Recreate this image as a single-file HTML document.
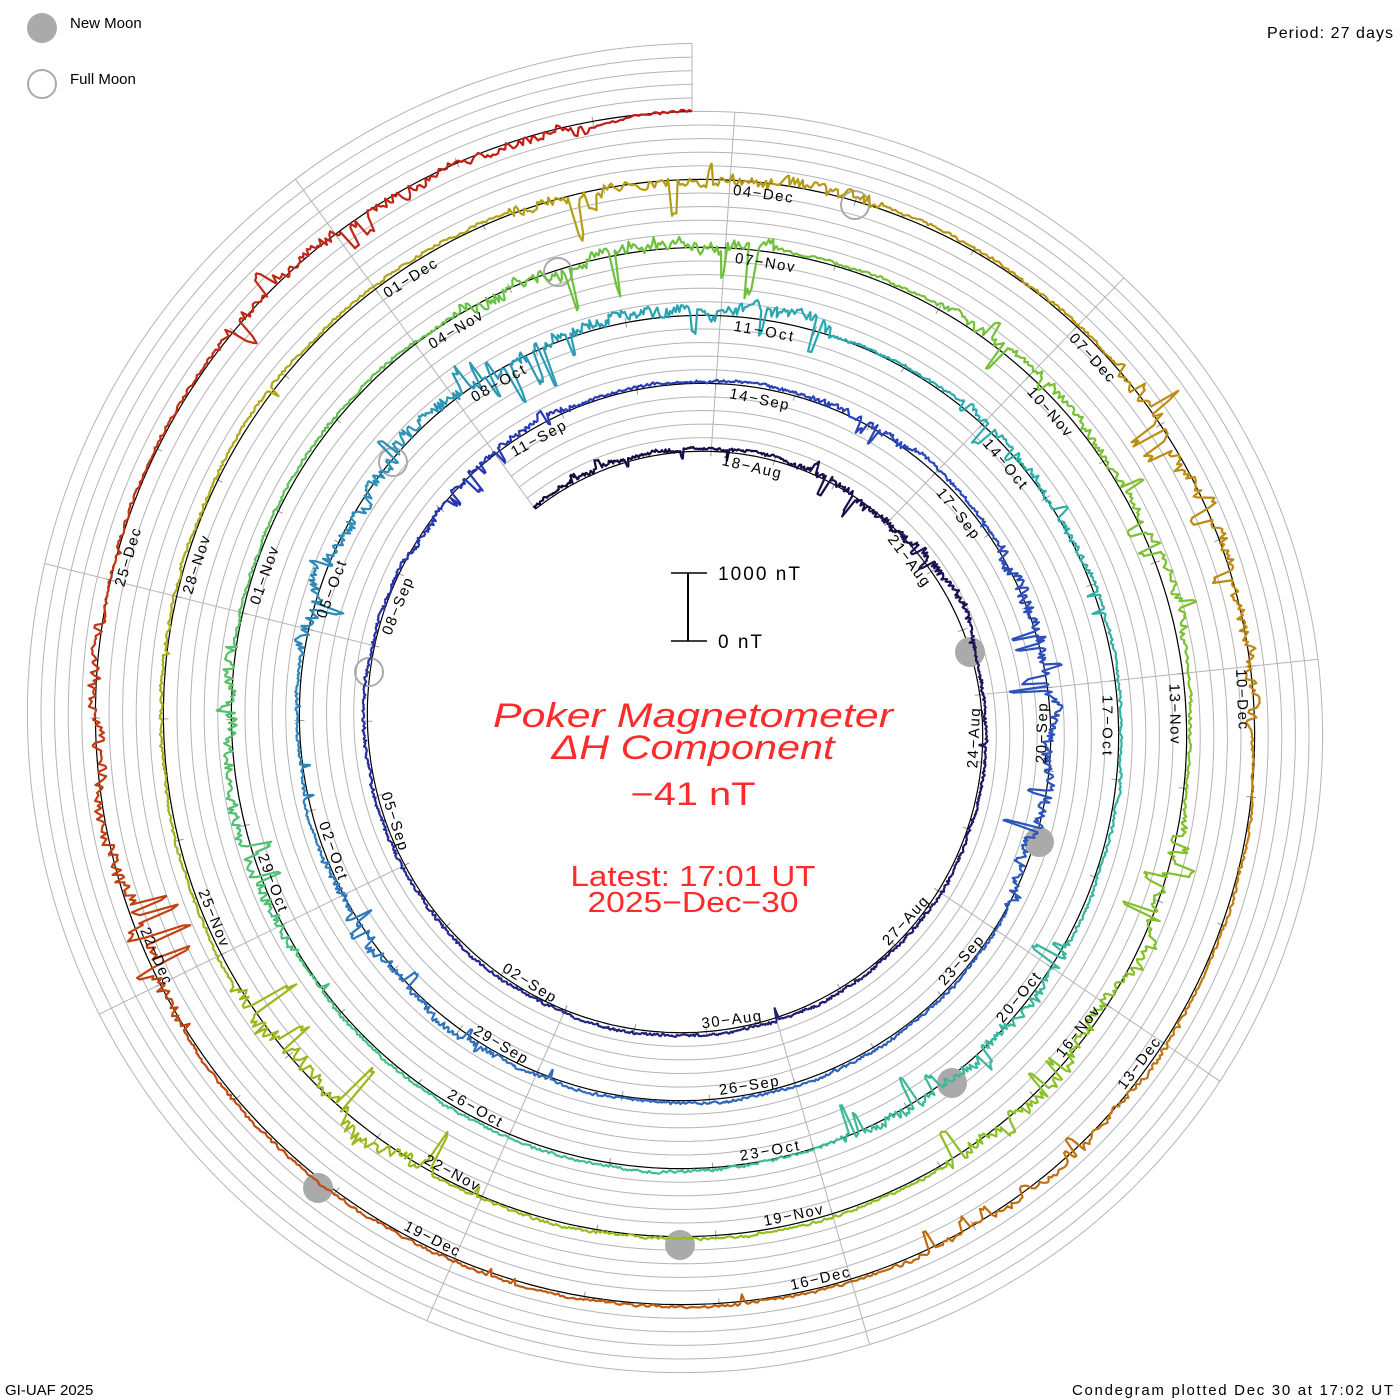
<!DOCTYPE html>
<html><head><meta charset="utf-8"><style>
html,body{margin:0;padding:0;background:#fff;}
svg{display:block;}
text{font-family:"Liberation Sans",sans-serif;}
.dl{font-size:15px;fill:#000;}
</style></head><body>
<svg id="s" width="1400" height="1400" viewBox="0 0 1400 1400" xmlns="http://www.w3.org/2000/svg">
<rect width="1400" height="1400" fill="#fff"/>
<g id="grid"></g>
<g id="moons">
<circle cx="970" cy="652" r="15" fill="#aaa"/>
<circle cx="1039" cy="842" r="15" fill="#aaa"/>
<circle cx="952" cy="1083" r="15" fill="#aaa"/>
<circle cx="680" cy="1245" r="15" fill="#aaa"/>
<circle cx="318" cy="1188" r="15" fill="#aaa"/>
<circle cx="855" cy="205" r="14" fill="none" stroke="#aaa" stroke-width="2"/>
<circle cx="558" cy="272" r="14" fill="none" stroke="#aaa" stroke-width="2"/>
<circle cx="393" cy="462" r="14" fill="none" stroke="#aaa" stroke-width="2"/>
<circle cx="369" cy="672" r="14" fill="none" stroke="#aaa" stroke-width="2"/>
</g>
<g id="data"></g>
<g id="labels">
<text class="dl" textLength="60">18−Aug</text>
<text class="dl" textLength="60">21−Aug</text>
<text class="dl" textLength="60">24−Aug</text>
<text class="dl" textLength="60">27−Aug</text>
<text class="dl" textLength="60">30−Aug</text>
<text class="dl" textLength="60">02−Sep</text>
<text class="dl" textLength="60">05−Sep</text>
<text class="dl" textLength="60">08−Sep</text>
<text class="dl" textLength="60">11−Sep</text>
<text class="dl" textLength="60">14−Sep</text>
<text class="dl" textLength="60">17−Sep</text>
<text class="dl" textLength="60">20−Sep</text>
<text class="dl" textLength="60">23−Sep</text>
<text class="dl" textLength="60">26−Sep</text>
<text class="dl" textLength="60">29−Sep</text>
<text class="dl" textLength="60">02−Oct</text>
<text class="dl" textLength="60">05−Oct</text>
<text class="dl" textLength="60">08−Oct</text>
<text class="dl" textLength="60">11−Oct</text>
<text class="dl" textLength="60">14−Oct</text>
<text class="dl" textLength="60">17−Oct</text>
<text class="dl" textLength="60">20−Oct</text>
<text class="dl" textLength="60">23−Oct</text>
<text class="dl" textLength="60">26−Oct</text>
<text class="dl" textLength="60">29−Oct</text>
<text class="dl" textLength="60">01−Nov</text>
<text class="dl" textLength="60">04−Nov</text>
<text class="dl" textLength="60">07−Nov</text>
<text class="dl" textLength="60">10−Nov</text>
<text class="dl" textLength="60">13−Nov</text>
<text class="dl" textLength="60">16−Nov</text>
<text class="dl" textLength="60">19−Nov</text>
<text class="dl" textLength="60">22−Nov</text>
<text class="dl" textLength="60">25−Nov</text>
<text class="dl" textLength="60">28−Nov</text>
<text class="dl" textLength="60">01−Dec</text>
<text class="dl" textLength="60">04−Dec</text>
<text class="dl" textLength="60">07−Dec</text>
<text class="dl" textLength="60">10−Dec</text>
<text class="dl" textLength="60">13−Dec</text>
<text class="dl" textLength="60">16−Dec</text>
<text class="dl" textLength="60">19−Dec</text>
<text class="dl" textLength="60">22−Dec</text>
<text class="dl" textLength="60">25−Dec</text>
</g>
<circle cx="42" cy="28" r="15" fill="#aaa"/>
<text x="70" y="28" font-size="15" fill="#000">New Moon</text>
<circle cx="42" cy="84" r="14" fill="none" stroke="#aaa" stroke-width="2"/>
<text x="70" y="84" font-size="15" fill="#000">Full Moon</text>
<text x="1393" y="38" font-size="16" text-anchor="end" textLength="126">Period: 27 days</text>
<text x="5" y="1395" font-size="15">GI-UAF 2025</text>
<text x="1393" y="1395" font-size="15" text-anchor="end" textLength="321">Condegram plotted Dec 30 at 17:02 UT</text>
<line x1="688" y1="573" x2="688" y2="641" stroke="#000" stroke-width="2"/>
<line x1="671" y1="573" x2="707" y2="573" stroke="#000" stroke-width="1.5"/>
<line x1="671" y1="641" x2="707" y2="641" stroke="#000" stroke-width="1.5"/>
<text x="718" y="580" font-size="19" textLength="82">1000 nT</text>
<text x="718" y="648" font-size="19" textLength="44">0 nT</text>
<text x="693" y="727" font-family="Liberation Serif,serif" font-style="italic" font-size="34" fill="#ff2a2a" text-anchor="middle" textLength="400" lengthAdjust="spacingAndGlyphs">Poker Magnetometer</text>
<text x="693" y="759" font-family="Liberation Serif,serif" font-style="italic" font-size="34" fill="#ff2a2a" text-anchor="middle" textLength="283" lengthAdjust="spacingAndGlyphs">ΔH Component</text>
<text x="693" y="805" font-size="32" fill="#ff2a2a" text-anchor="middle" textLength="125" lengthAdjust="spacingAndGlyphs">−41 nT</text>
<text x="693" y="886" font-size="29" fill="#ff2a2a" text-anchor="middle" textLength="245" lengthAdjust="spacingAndGlyphs">Latest: 17:01 UT</text>
<text x="693" y="912" font-size="29" fill="#ff2a2a" text-anchor="middle" textLength="211" lengthAdjust="spacingAndGlyphs">2025−Dec−30</text>
</svg>
<script>
(function(){
var NS="http://www.w3.org/2000/svg";
var cx=692,cy=725,A=273.5,B=68;
function rb(t){return A+B*t/360;}
function P(t,r){var a=t*Math.PI/180;return [cx+r*Math.sin(a),cy-r*Math.cos(a)];}
function el(tag,at,parent){var e=document.createElementNS(NS,tag);for(var k in at)e.setAttribute(k,at[k]);parent.appendChild(e);return e;}
var grid=document.getElementById('grid');
var T0=-36,T1=1800;
for(var j=1;j<=5;j++){
 var d="";
 for(var t=T0;t<=T1;t+=1){var p=P(t,rb(t)+13.6*j);d+=(t==T0?"M":"L")+p[0].toFixed(1)+","+p[1].toFixed(1);}
 el('path',{d:d,fill:'none',stroke:'#b4b4b4','stroke-width':1},grid);
}
var rads=[4,44,84,124,164,204,244,284,324];
rads.forEach(function(th){
 var n=Math.floor((T1-th)/360);var r2=rb(th+360*n)+68;
 var p1=P(th,rb(th)-4),p2=P(th,r2);
 el('line',{x1:p1[0],y1:p1[1],x2:p2[0],y2:p2[1],stroke:'#b4b4b4','stroke-width':1},grid);
});
var s1=P(T0,rb(T0)),s2=P(T0,rb(T0+360));
el('line',{x1:s1[0],y1:s1[1],x2:s2[0],y2:s2[1],stroke:'#b4b4b4','stroke-width':1},grid);
var e1=P(T1,rb(T1)),e2=P(T1,rb(T1)+68);
el('line',{x1:e1[0],y1:e1[1],x2:e2[0],y2:e2[1],stroke:'#b4b4b4','stroke-width':1},grid);
for(var t=4;t<=T1;t+=40/3){var a=P(t,rb(t)-5),b=P(t,rb(t)+5);el('line',{x1:a[0],y1:a[1],x2:b[0],y2:b[1],stroke:'#999','stroke-width':1},grid);}
var d="";for(var t=T0;t<=T1;t+=1){var p=P(t,rb(t));d+=(t==T0?"M":"L")+p[0].toFixed(1)+","+p[1].toFixed(1);}
el('path',{d:d,fill:'none',stroke:'#000','stroke-width':1.2},grid);
var seed=12345;function rnd(){seed=(seed*16807)%2147483647;return seed/2147483647;}
var ev=[[-30,0,15],[20,70,25],[300,340,20],[380,400,30],[420,480,40],[570,610,25],[640,700,45],[700,740,45],[760,790,25],[840,880,35],[960,1000,40],[1050,1090,50],[1110,1160,30],[1180,1230,45],[1290,1320,55],[1420,1460,40],[1490,1530,45],[1560,1600,20],[1680,1720,45],[1750,1790,40]];
var stops=[[0,[20,9,58]],[0.1,[30,28,110]],[0.2,[40,56,184]],[0.33,[48,110,190]],[0.42,[42,168,176]],[0.52,[64,192,144]],[0.6,[108,192,64]],[0.7,[144,192,32]],[0.78,[176,168,24]],[0.86,[192,128,16]],[0.93,[192,72,16]],[1,[192,24,24]]];
function col(f){for(var i=1;i<stops.length;i++){if(f<=stops[i][0]){var a=stops[i-1],b=stops[i],u=(f-a[0])/(b[0]-a[0]);return 'rgb('+[0,1,2].map(function(k){return Math.round(a[1][k]+(b[1][k]-a[1][k])*u);}).join(',')+')';}}return 'rgb(192,24,24)';}
var dg=document.getElementById('data');
var pts=[];var w=0,hold=0,hv=0;
for(var t=T0;t<=T1;t+=0.25){
 var amp=0;ev.forEach(function(e){if(t>=e[0]&&t<=e[1])amp=e[2];});
 var dv;
 if(amp>0){
  w=w*0.97+(rnd()-0.5)*amp*0.09;
  dv=3+w+(rnd()-0.5)*amp*0.25;
  if(hold>0){dv-=hv;hold--;}
  else if(rnd()<0.04){hv=amp*(0.3+0.7*rnd())*(rnd()<0.7?1:-0.6);hold=1+Math.floor(rnd()*3);dv-=hv;}
 } else {
  w=w*0.96+(rnd()-0.5)*0.8;
  dv=3+w+(rnd()-0.5)*2.5;
  if(rnd()<0.006){dv-=3+rnd()*10;}
 }
 pts.push([t,rb(t)+dv]);
}
var chunk=8;
for(var i=0;i<pts.length-1;i+=chunk){
 var d="";for(var k=i;k<=Math.min(i+chunk,pts.length-1);k++){var p=P(pts[k][0],pts[k][1]);d+=(k==i?"M":"L")+p[0].toFixed(1)+","+p[1].toFixed(1);}
 el('path',{d:d,fill:'none',stroke:col((pts[i][0]-T0)/(T1-T0)),'stroke-width':2.2,'stroke-linejoin':'round'},dg);
}
var labs=document.getElementById('labels').getElementsByTagName('text');
for(var k=0;k<labs.length;k++){
 var th=13+39.85*k;var m=((th%360)+360)%360;var r=rb(th);
 labs[k].setAttribute('text-anchor','middle');
 if(m>90&&m<270){labs[k].setAttribute('transform','rotate('+th.toFixed(2)+' '+cx+' '+cy+') translate('+cx+' '+(cy-(r-4)).toFixed(1)+') rotate(180)');}
 else{labs[k].setAttribute('transform','rotate('+th.toFixed(2)+' '+cx+' '+cy+') translate('+cx+' '+(cy-(r-16)).toFixed(1)+')');}
}
})();
</script>
</body></html>
